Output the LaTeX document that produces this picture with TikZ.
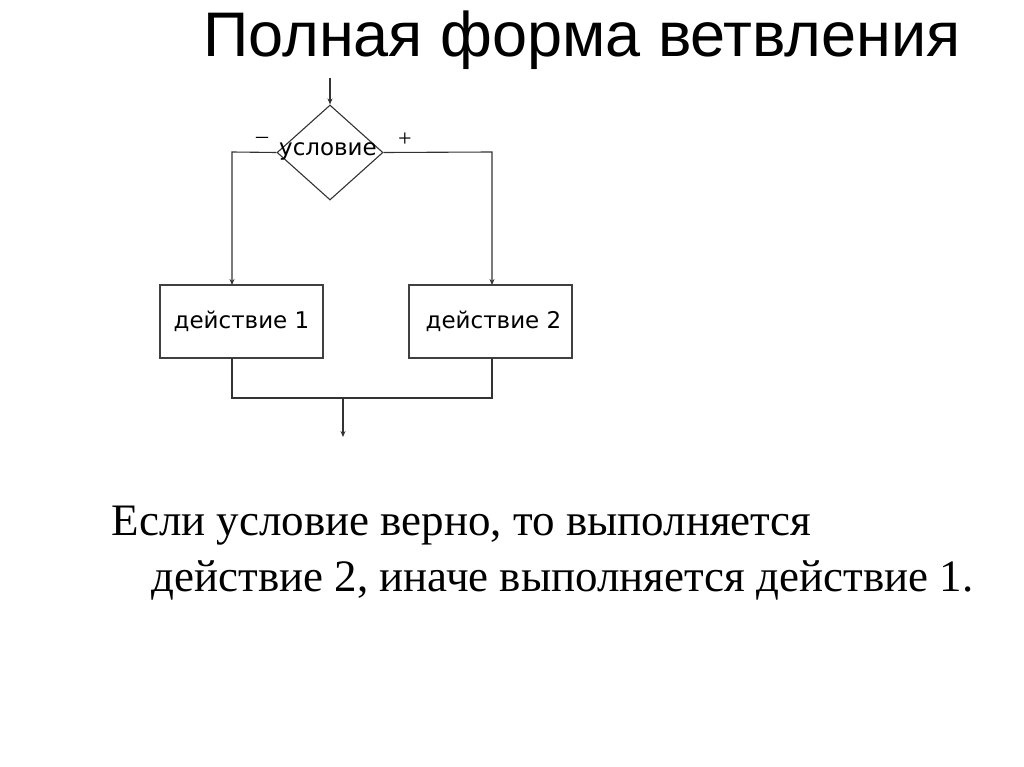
\documentclass[tikz,border=0pt]{standalone}
\usepackage{fontspec}
\setmainfont{Liberation Serif}
\newfontfamily\titlefont{Liberation Sans}
\newfontfamily\boxfont{DejaVu Sans}
\usetikzlibrary{shapes.geometric,arrows.meta}
\begin{document}
\begin{tikzpicture}[x=1pt,y=-1pt,
  ln/.style={draw=black!80,line width=1.1pt},
  arr/.style={ln,-{Stealth[length=6pt,width=5pt]}},
  actbox/.style={draw=black!75,line width=1.1pt,minimum width=163pt,minimum height=73pt,font=\boxfont\fontsize{23}{27}\selectfont,inner sep=0pt}]
\useasboundingbox (0,0) rectangle (1024,767);
\node (title) at (582,40) {\titlefont\fontsize{63}{70}\selectfont Полная форма ветвления};
\coordinate (in) at (330,78);
\node[ln,diamond,minimum width=106pt,minimum height=95pt,inner sep=0pt,aspect=1.1] (cond) at (330,152.5) {};
\node[font=\boxfont\fontsize{23}{27}\selectfont] (condt) at (328,151) {условие};
\draw[arr] (in) -- (cond.north);
\node (a1) [actbox] at (241.5,321.5) {действие 1};
\node (a2) [actbox] at (490.5,321.5) {\hspace{6pt}действие 2};
\draw[arr] (cond.west) -- (232,152) -- (232,285);
\draw[arr] (cond.east) -- (492,152) -- (492,285);
\node[font=\fontsize{24}{26}\selectfont] (minus) at (262,140) {--};
\node[font=\fontsize{24}{26}\selectfont] (plus) at (405,140) {+};
\coordinate (j) at (343,398);
\coordinate (out) at (343,437);
\draw[ln] (232,358) -- (232,398) -- (492,398) -- (492,358);
\draw[arr] (j) -- (out);
\node[anchor=base west,font=\fontsize{45}{50}\selectfont] (l1) at (108,535) {Если условие верно, то выполняется};
\node[anchor=base west,font=\fontsize{45}{50}\selectfont] (l2) at (148,591) {действие 2, иначе выполняется действие 1.};
\end{tikzpicture}
\end{document}
